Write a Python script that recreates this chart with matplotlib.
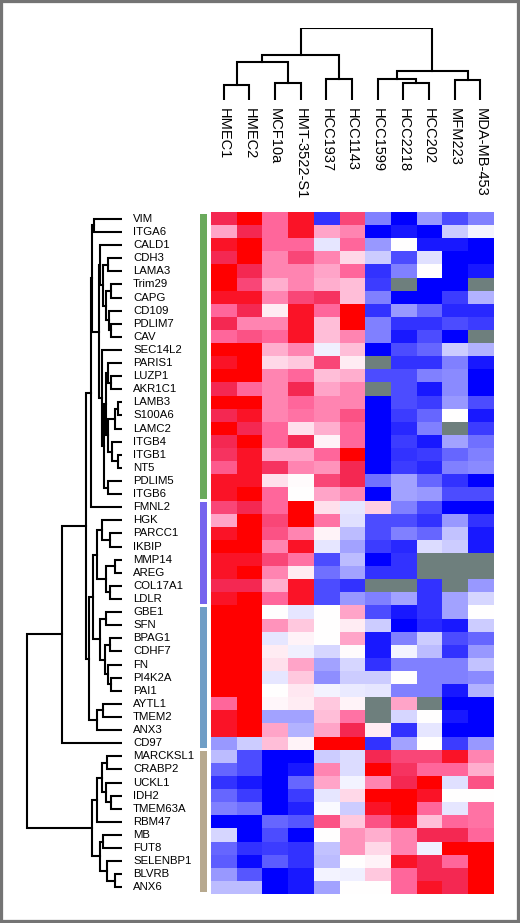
import matplotlib
matplotlib.use('Agg')
import matplotlib.pyplot as plt
import numpy as np
from matplotlib.colors import LinearSegmentedColormap
from matplotlib.patches import Rectangle

plt.rcParams['font.family'] = ['Liberation Sans', 'DejaVu Sans']

nan = np.nan

cell_lines = ['HMEC1', 'HMEC2', 'MCF10a', 'HMT-3522-S1', 'HCC1937', 'HCC1143',
              'HCC1599', 'HCC2218', 'HCC202', 'MFM223', 'MDA-MB-453']

genes = ['VIM', 'ITGA6', 'CALD1', 'CDH3', 'LAMA3', 'Trim29', 'CAPG', 'CD109',
         'PDLIM7', 'CAV', 'SEC14L2', 'PARIS1', 'LUZP1', 'AKR1C1', 'LAMB3',
         'S100A6', 'LAMC2', 'ITGB4', 'ITGB1', 'NT5', 'PDLIM5', 'ITGB6',
         'FMNL2', 'HGK', 'PARCC1', 'IKBIP', 'MMP14', 'AREG', 'COL17A1', 'LDLR',
         'GBE1', 'SFN', 'BPAG1', 'CDHF7', 'FN', 'PI4K2A', 'PAI1', 'AYTL1',
         'TMEM2', 'ANX3', 'CD97',
         'MARCKSL1', 'CRABP2', 'UCKL1', 'IDH2', 'TMEM63A', 'RBM47', 'MB',
         'FUT8', 'SELENBP1', 'BLVRB', 'ANX6']

group_sizes = [22, 8, 11, 11]
group_colors = ['#6aaa5c', '#7664ee', '#6f9ec6', '#b7a98e']

# relative expression, -5 (blue) .. 5 (red), nan = missing (grey)
expr = np.array([
    [4, 5, 3, 4.5, -4, 3.5, -2.5, -5, -2, -3.5, -2.5],
    [2, 4, 3, 4.5, 2, 2.5, -5, -4.5, -5, -1, -0.2],
    [4.5, 5, 3, 3, -0.5, 3, -2, 0, -4.5, -4.5, -5],
    [4, 5, 2.5, 3.5, 2.5, 1, -1, -3.5, -0.6, -5, -5],
    [5, 4, 2.5, 2.5, 2, 3, -4, -2.5, 0, -5, -4.5],
    [5, 3.5, 1.8, 2.5, 1.8, 1.5, -3.8, nan, -5, -5, nan],
    [4.5, 4.5, 2.5, 3.5, 3.8, 1.5, -2.5, -5, -5, -3.8, -1.5],
    [3, 4, 0.5, 4.5, 3, 5, -4, -2, -3, -4.2, -4.2],
    [4, 2.5, 2.5, 4.5, 1.5, 5, -2.5, -4, -4, -3.5, -3.8],
    [3, 3.3, 3, 4.5, 1.5, 2.5, -2.5, -4.5, -3.5, -5, nan],
    [5, 5, 1.8, 2.5, -0.3, 1.5, -5, -3.5, -3, -1, -1.5],
    [4.5, 5, 1, 1.3, 3.5, 0.5, nan, -4, -4, -2.5, -4.5],
    [5, 5, 2.5, 3, 1.5, 1.8, -3.5, -3.5, -2.5, -2.3, -5],
    [4, 3, 2.5, 4, 2, 2.5, nan, -3.5, -4.5, -2.3, -5],
    [5, 5, 2.5, 3, 2.5, 2.5, -5, -3.5, -3.8, -2, -3.5],
    [4, 4.5, 2.5, 2.8, 2.5, 3.3, -5, -3.8, -3, 0, -4.5],
    [5, 4, 3, 0.8, 1.8, 3, -5, -4.2, -2.5, nan, -3.8],
    [4, 5, 3, 4, 0.3, 3, -5, -3.8, -4.5, -1.8, -2.8],
    [3.8, 4.5, 2, 2, 3, 5, -5, -4, -3.8, -3, -2.5],
    [3.2, 4.5, 3.8, 2.5, 2.3, 4, -5, -3.8, -4.2, -2.5, -2.3],
    [4.5, 4.5, 0.8, 0.1, 3.5, 4, -2.8, -1.8, -3, -4, -5],
    [4.5, 5, 3, 0, 2, 2.5, -5, -1.8, -2, -3.5, -3.5],
    [3.5, 4, 3, 5, 0.8, -0.5, 1.2, -2.5, -3.5, -5, -5],
    [2, 5, 3.5, 5, 2.8, -0.6, -3.5, -3.5, -4, -2, -4],
    [4.5, 5, 3.3, 2.5, 0.3, -1.3, -3.5, -2.5, -3, -1.2, -4.5],
    [5, 5, 2.5, 4.5, -0.5, -1.8, -3.8, -4.2, -0.7, -1, -4.5],
    [4.5, 4.5, 3.5, 2.8, -3.5, -1.3, -5, -4, nan, nan, nan],
    [4.5, 5, 2.5, 0.5, -2.8, -1.8, -4, -4, nan, nan, nan],
    [4, 4, 1.8, 4.5, -3.5, -4, nan, nan, -4, nan, -2],
    [4.5, 5, 3, 4.5, -3.5, -2, -2.5, -1.8, -4, -1.8, -0.8],
    [5, 5, 0, -0.5, 0, 2, -3.5, -4.5, -4, -1.8, 0],
    [5, 5, 2.3, 1.3, 0, 0.5, -1, -5, -4.2, -4.5, -1],
    [5, 5, -0.5, 0.3, 0, 2, -4.5, -2.5, -1, -3.5, -3],
    [5, 5, 0.5, -0.3, -0.8, 0.1, -4.5, -0.2, -1.3, -4, -2],
    [5, 5, 0.8, 2, -1.8, -0.8, -4, -2.5, -2.5, -2.5, -1.2],
    [5, 5, -0.5, 1.3, -2.2, -1, -1, 0, -2.5, -2.5, -2.3],
    [5, 5, 0, 0.6, -0.2, -0.4, -0.5, -2.5, -2.5, -4.5, -1.5],
    [3, 5, 0.2, 0.5, 1.3, 0.3, nan, 2, nan, -5, -5],
    [4.5, 5, -1.8, -1.8, 1.5, 2.8, nan, -0.8, 0, -4.5, -5],
    [4.5, 5, 2, -1.5, 2, 4, 0.5, -4, -0.5, -5, -5],
    [-2, -1, 1.5, 0.3, 5, 5, -4, -1.8, 0, -3.8, -2],
    [-1.3, -3.5, -5, -5, -1, -0.7, 4, 3.5, 3.5, 4.5, 2.5],
    [-3, -3.5, -5, -4.5, 2.5, -0.7, 5, 3.8, 3, 3, 1.8],
    [-4, -4.5, -5, -3, 2, -0.2, 2.5, 4, 5, -0.6, 3.3],
    [-3, -3.8, -5, -3.8, -0.5, 1, 5, 5, 4.5, 0, 0],
    [-2.5, -2.8, -5, -4.3, -0.1, -1, 4.5, 5, 3, -0.5, 2.8],
    [-5, -5, -3, -3.3, 3.3, 1.3, 3.3, 4.5, 1.5, 3, 2.8],
    [-0.8, -5, -3.5, -5, 0, 2.3, 1.8, 2.5, 4, 4, 3],
    [-3, -4, -3.8, -4, -1.2, 2.3, 1, 2.5, -0.3, 5, 5],
    [-3.2, -4.8, -3.2, -4, -1.3, 0, 0.3, 4.5, 4, 3, 5],
    [-2, -3.3, -5, -4.5, -0.2, -0.3, 1.3, 3, 4, 4, 5],
    [-1.3, -1.3, -5, -4.5, -1.8, 0, 0, 3, 4.5, 4, 5],
])

# dendrograms: (node, child a, child b, merge height)
col_merges = [
    ('c1', 'HMEC1', 'HMEC2', 15),
    ('c2', 'MCF10a', 'HMT-3522-S1', 17),
    ('c3', 'c1', 'c2', 38),
    ('c4', 'HCC1937', 'HCC1143', 21),
    ('c5', 'c3', 'c4', 45),
    ('c6', 'HCC2218', 'HCC202', 17),
    ('c7', 'HCC1599', 'c6', 21),
    ('c8', 'MFM223', 'MDA-MB-453', 20),
    ('c9', 'c7', 'c8', 29),
    ('croot', 'c5', 'c9', 72),
]

row_merges = [
    ('g1', 'VIM', 'ITGA6', 28),
    ('g2', 'CDH3', 'LAMA3', 14),
    ('g3', 'Trim29', 'CAPG', 11),
    ('g4', 'PDLIM7', 'CAV', 11),
    ('g5', 'CD109', 'g4', 13),
    ('g6', 'g3', 'g5', 16),
    ('g7', 'g2', 'g6', 19),
    ('g8', 'CALD1', 'g7', 22),
    ('g9', 'LUZP1', 'AKR1C1', 11),
    ('g10', 'PARIS1', 'g9', 14),
    ('g11', 'LAMB3', 'S100A6', 4),
    ('g12', 'g11', 'LAMC2', 7),
    ('g13', 'ITGB1', 'NT5', 4),
    ('g14', 'ITGB4', 'g13', 10),
    ('g15', 'g12', 'g14', 14),
    ('g16', 'g10', 'g15', 16),
    ('g17', 'PDLIM5', 'ITGB6', 14),
    ('g18', 'g16', 'g17', 18),
    ('g19', 'SEC14L2', 'g18', 20),
    ('g20', 'g8', 'g19', 23),
    ('g21', 'g1', 'g20', 30),
    ('gf', 'g21', 'FMNL2', 31),
    ('p1', 'PARCC1', 'IKBIP', 12),
    ('p2', 'HGK', 'p1', 20),
    ('p3', 'MMP14', 'AREG', 7),
    ('p4', 'COL17A1', 'LDLR', 12),
    ('p5', 'p3', 'p4', 16),
    ('p6', 'p2', 'p5', 25),
    ('b1', 'GBE1', 'SFN', 16),
    ('b2', 'BPAG1', 'CDHF7', 12),
    ('b3', 'PI4K2A', 'PAI1', 11),
    ('b4', 'FN', 'b3', 14),
    ('b5', 'b2', 'b4', 17),
    ('b6', 'b1', 'b5', 22),
    ('b7', 'AYTL1', 'TMEM2', 19),
    ('b8', 'b7', 'ANX3', 25),
    ('pb', 'p6', 'b6', 29),
    ('pb2', 'pb', 'b8', 33),
    ('m1', 'gf', 'pb2', 36),
    ('m2', 'm1', 'CD97', 60),
    ('t1', 'MARCKSL1', 'CRABP2', 15),
    ('t2', 'IDH2', 'TMEM63A', 11),
    ('t3', 'UCKL1', 't2', 16),
    ('t4', 't1', 't3', 20),
    ('t5', 't4', 'RBM47', 25),
    ('t6', 'BLVRB', 'ANX6', 7),
    ('t7', 'SELENBP1', 't6', 15),
    ('t8', 'MB', 'FUT8', 19),
    ('t9', 't8', 't7', 22),
    ('t10', 't5', 't9', 30),
    ('root', 'm2', 't10', 95),
]


def tree_segments(leaves, merges):
    pos = {name: i for i, name in enumerate(leaves)}
    hgt = {name: 0.0 for name in leaves}
    segs = []
    for node, a, b, h in merges:
        segs.append(([pos[a], pos[a], pos[b], pos[b]], [hgt[a], h, h, hgt[b]]))
        pos[node] = (pos[a] + pos[b]) / 2.0
        hgt[node] = h
    return segs


W, H = 520, 923
fig = plt.figure(figsize=(W / 100, H / 100), dpi=100)
fig.patch.set_facecolor('white')


def px_axes(left, top, right, bottom):
    return fig.add_axes([left / W, 1 - bottom / H, (right - left) / W, (bottom - top) / H])


hm_left, hm_right, hm_top, hm_bot = 211, 493.3, 212.3, 894

cmap = LinearSegmentedColormap.from_list('bwr_pink', [
    (0.0, (0, 0, 1)),
    (0.5, (1, 1, 1)),
    (0.6, (1, 0.85, 0.91)),
    (0.7, (1, 0.65, 0.79)),
    (0.8, (1, 0.40, 0.61)),
    (0.9, (0.96, 0.16, 0.33)),
    (1.0, (1, 0, 0)),
])
cmap.set_bad('#6e7f7d')

# heatmap
ax = px_axes(hm_left, hm_top, hm_right, hm_bot)
ax.imshow(np.ma.masked_invalid(expr), cmap=cmap, vmin=-5, vmax=5,
          aspect='auto', interpolation='nearest')
ax.set_axis_off()

# group colour bar
axb = px_axes(200, hm_top, 207.3, hm_bot)
start = 0
for size, col in zip(group_sizes, group_colors):
    axb.bar(0, size - 0.25, bottom=start - 0.5 + 0.125, width=1, color=col)
    start += size
axb.set_xlim(-0.5, 0.5)
axb.set_ylim(len(genes) - 0.5, -0.5)
axb.set_axis_off()

# column dendrogram + labels
axc = px_axes(hm_left, 28, hm_right, 100)
for xs, ys in tree_segments(cell_lines, col_merges):
    axc.plot(xs, ys, color='black', lw=1.5, solid_joinstyle='miter')
for i, name in enumerate(cell_lines):
    axc.text(i, -8, name, rotation=270, ha='center', va='top', fontsize=10.5,
             clip_on=False)
axc.set_xlim(-0.5, len(cell_lines) - 0.5)
axc.set_ylim(0, 72)
axc.set_axis_off()

# row dendrogram + labels
axr = px_axes(22, hm_top, 122, hm_bot)
for ys, xs in tree_segments(genes, row_merges):
    axr.plot(xs, ys, color='black', lw=1.5, solid_joinstyle='miter')
for i, name in enumerate(genes):
    axr.text(-11, i, name, ha='left', va='center', fontsize=8.2, clip_on=False)
axr.set_xlim(100, 0)
axr.set_ylim(len(genes) - 0.5, -0.5)
axr.set_axis_off()

# grey frame round the picture
fig.patches.append(Rectangle((0, 0), 1, 1, transform=fig.transFigure, fill=False,
                             edgecolor='#747474', lw=4.5))

fig.savefig('out.png', dpi=100)
